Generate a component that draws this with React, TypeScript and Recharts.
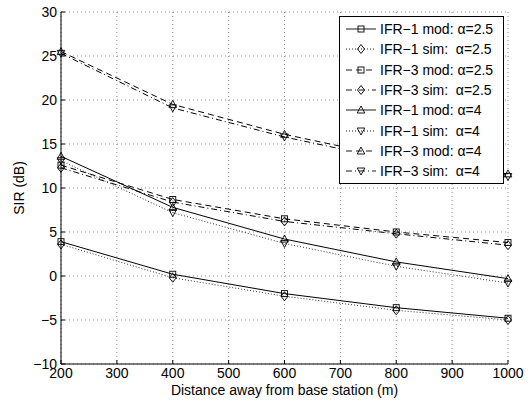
import React from "react";
import { LineChart, Line, XAxis, YAxis, CartesianGrid, Legend } from "recharts";

// distance from base station (m)
const distance = [200, 400, 600, 800, 1000];

// SIR in dB
const ifr1ModA25 = [3.9, 0.2, -2.0, -3.6, -4.8];
const ifr1SimA25 = [3.6, -0.2, -2.3, -3.9, -5.0];
const ifr3ModA25 = [12.6, 8.7, 6.5, 5.0, 3.8];
const ifr3SimA25 = [12.3, 8.4, 6.2, 4.8, 3.5];
const ifr1ModA4 = [13.6, 7.8, 4.2, 1.6, -0.3];
const ifr1SimA4 = [13.1, 7.2, 3.7, 1.1, -0.8];
const ifr3ModA4 = [25.5, 19.5, 16.1, 13.4, 11.6];
const ifr3SimA4 = [25.3, 19.1, 15.8, 13.1, 11.3];

const xTicks = [200, 300, 400, 500, 600, 700, 800, 900, 1000];
const yTicks = [-10, -5, 0, 5, 10, 15, 20, 25, 30];

const SOLID = undefined;
const DOTTED = "1 2";
const DASHED = "6 4";
const DASHDOT = "6 3 1 3";

const SERIES = [
  { key: "ifr1ModA25", name: "IFR\u22121 mod: \u03b1=2.5", values: ifr1ModA25, dash: SOLID, marker: "square" },
  { key: "ifr1SimA25", name: "IFR\u22121 sim:  \u03b1=2.5", values: ifr1SimA25, dash: DOTTED, marker: "diamond" },
  { key: "ifr3ModA25", name: "IFR\u22123 mod: \u03b1=2.5", values: ifr3ModA25, dash: DASHED, marker: "square" },
  { key: "ifr3SimA25", name: "IFR\u22123 sim:  \u03b1=2.5", values: ifr3SimA25, dash: DASHDOT, marker: "diamond" },
  { key: "ifr1ModA4", name: "IFR\u22121 mod: \u03b1=4", values: ifr1ModA4, dash: SOLID, marker: "triUp" },
  { key: "ifr1SimA4", name: "IFR\u22121 sim:  \u03b1=4", values: ifr1SimA4, dash: DOTTED, marker: "triDown" },
  { key: "ifr3ModA4", name: "IFR\u22123 mod: \u03b1=4", values: ifr3ModA4, dash: DASHED, marker: "triUp" },
  { key: "ifr3SimA4", name: "IFR\u22123 sim:  \u03b1=4", values: ifr3SimA4, dash: DASHDOT, marker: "triDown" },
];

const data = distance.map((d, i) => {
  const row: Record<string, number> = { distance: d };
  SERIES.forEach((s) => {
    row[s.key] = s.values[i];
  });
  return row;
});

const FONT = "'Liberation Sans', Arial, Helvetica, sans-serif";
const TICK_GAP = 4;
const TICK_LEN = 4;

function Marker({ shape, cx, cy }: { shape: string; cx: number; cy: number }) {
  const common = { fill: "none", stroke: "#000", strokeWidth: 0.9 };
  if (shape === "square") {
    return <rect x={cx - 3} y={cy - 3} width={6} height={6} {...common} />;
  }
  if (shape === "diamond") {
    return <polygon points={`${cx},${cy - 4.5} ${cx + 3.5},${cy} ${cx},${cy + 4.5} ${cx - 3.5},${cy}`} {...common} />;
  }
  if (shape === "triUp") {
    return <polygon points={`${cx},${cy - 4} ${cx + 3.8},${cy + 3} ${cx - 3.8},${cy + 3}`} {...common} />;
  }
  return <polygon points={`${cx},${cy + 4} ${cx + 3.8},${cy - 3} ${cx - 3.8},${cy - 3}`} {...common} />;
}

const fmtY = (v: number) => (v < 0 ? "\u2212" + Math.abs(v) : String(v));

function BottomTick(props: any) {
  const { x, y, payload } = props;
  const axisY = y - TICK_GAP;
  return (
    <g>
      <line x1={x} x2={x} y1={axisY} y2={axisY - TICK_LEN} stroke="#000" />
      <text x={x} y={y} dy="0.72em" textAnchor="middle" fontSize={14} fill="#000">
        {payload.value}
      </text>
    </g>
  );
}

function LeftTick(props: any) {
  const { x, y, payload } = props;
  const axisX = x + TICK_GAP;
  return (
    <g>
      <line x1={axisX} x2={axisX + TICK_LEN} y1={y} y2={y} stroke="#000" />
      <text x={x} y={y} dy="0.36em" textAnchor="end" fontSize={14} fill="#000">
        {fmtY(payload.value)}
      </text>
    </g>
  );
}

function LegendBox() {
  return (
    <div
      style={{
        border: "1px solid #000",
        background: "#fff",
        padding: "2px 0",
        boxSizing: "border-box",
        width: 165,
        fontFamily: FONT,
      }}
    >
      {SERIES.map((s) => (
        <div key={s.key} style={{ display: "flex", alignItems: "center", height: 20.3 }}>
          <svg width={40} height={20} style={{ flex: "none" }}>
            <line x1={6} x2={36} y1={10} y2={10} stroke="#000" strokeWidth={0.9} strokeDasharray={s.dash} />
            <Marker shape={s.marker} cx={21} cy={10} />
          </svg>
          <span style={{ fontSize: 14, whiteSpace: "pre", color: "#000" }}>{s.name}</span>
        </div>
      ))}
    </div>
  );
}

export default function App() {
  return (
    <div
      style={{
        position: "absolute",
        left: 0,
        top: 0,
        width: 531,
        height: 402,
        background: "#fff",
        fontFamily: FONT,
      }}
    >
      <LineChart width={531} height={402} data={data} margin={{ top: 12, right: 23, bottom: 0, left: 0 }}>
        <CartesianGrid stroke="#8c8c8c" strokeDasharray="1 3" />
        <XAxis
          dataKey="distance"
          type="number"
          domain={[200, 1000]}
          ticks={xTicks}
          height={38}
          axisLine={{ stroke: "#000" }}
          tickLine={false}
          tickSize={0}
          tickMargin={TICK_GAP}
          tick={<BottomTick />}
          interval={0}
          label={{
            value: "Distance away from base station (m)",
            position: "insideBottom",
            offset: 7,
            fill: "#000",
            fontSize: 14,
          }}
        />
        <XAxis
          xAxisId="top"
          orientation="top"
          dataKey="distance"
          type="number"
          domain={[200, 1000]}
          ticks={xTicks}
          height={0}
          mirror
          tickSize={TICK_LEN}
          axisLine={{ stroke: "#000" }}
          tickLine={{ stroke: "#000" }}
          tickFormatter={() => ""}
          interval={0}
        />
        <YAxis
          type="number"
          domain={[-10, 30]}
          ticks={yTicks}
          width={61}
          axisLine={{ stroke: "#000" }}
          tickLine={false}
          tickSize={0}
          tickMargin={TICK_GAP}
          tick={<LeftTick />}
          interval={0}
          label={(props: any) => {
            const vb = props.viewBox;
            const lx = vb.x + 19;
            const ly = vb.y + vb.height / 2;
            return (
              <text
                x={lx}
                y={ly}
                transform={`rotate(-90 ${lx} ${ly})`}
                textAnchor="middle"
                dy="0.36em"
                fontSize={14}
                fill="#000"
              >
                SIR (dB)
              </text>
            );
          }}
        />
        <YAxis
          yAxisId="right"
          orientation="right"
          type="number"
          domain={[-10, 30]}
          ticks={yTicks}
          width={0}
          mirror
          tickSize={TICK_LEN}
          axisLine={{ stroke: "#000" }}
          tickLine={{ stroke: "#000" }}
          tickFormatter={() => ""}
          interval={0}
        />
        {SERIES.map((s) => (
          <Line
            key={s.key}
            dataKey={s.key}
            name={s.name}
            type="linear"
            stroke="#000"
            strokeWidth={s.dash === DOTTED ? 0.8 : 1}
            strokeDasharray={s.dash}
            isAnimationActive={false}
            activeDot={false}
            dot={(p: any) => <Marker key={`${s.key}-${p.index}`} shape={s.marker} cx={p.cx} cy={p.cy} />}
          />
        ))}
        <Legend
          layout="vertical"
          align="center"
          verticalAlign="middle"
          content={<LegendBox />}
          wrapperStyle={{ position: "absolute", left: 339, top: 16, width: 165, height: "auto" }}
        />
      </LineChart>
    </div>
  );
}
